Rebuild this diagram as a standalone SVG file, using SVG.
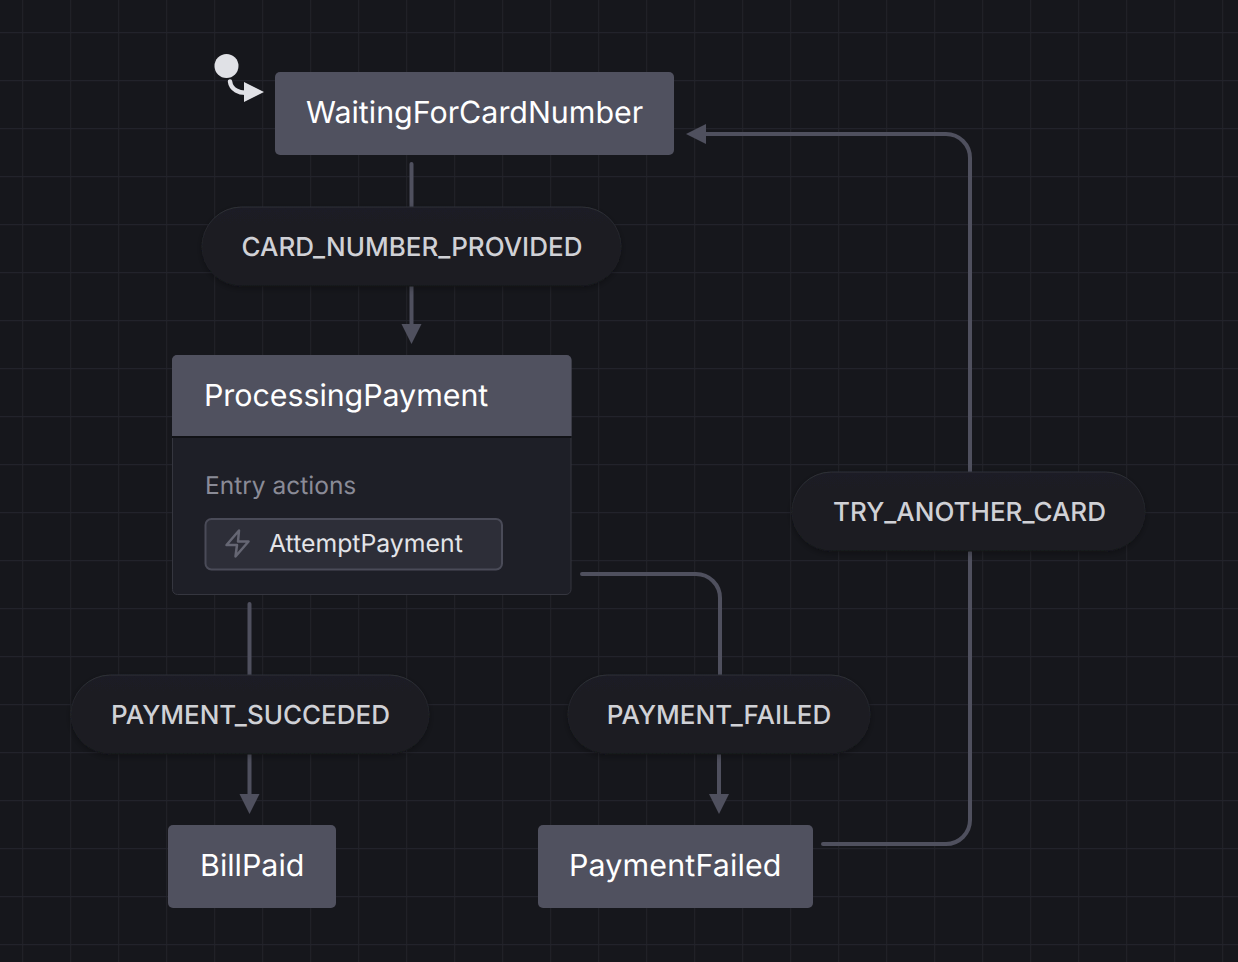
<svg xmlns="http://www.w3.org/2000/svg" width="1238" height="962" viewBox="0 0 1238 962">
<defs>
<pattern id="grid" width="48" height="48" patternUnits="userSpaceOnUse" x="22" y="32">
<rect x="0" y="0" width="1.2" height="48" fill="#202127"/>
<rect x="0" y="0" width="48" height="1.2" fill="#22232b"/>
</pattern>
<linearGradient id="pill" x1="0" y1="0" x2="0" y2="1"><stop offset="0" stop-color="#1e1f25"/><stop offset="1" stop-color="#1a1b20"/></linearGradient>
<linearGradient id="pillEdge" x1="0" y1="0" x2="0" y2="1"><stop offset="0" stop-color="#2e2f36"/><stop offset=".5" stop-color="#1f2026"/><stop offset="1" stop-color="#17181c"/></linearGradient>
<filter id="sh" x="-10%" y="-20%" width="120%" height="150%"><feDropShadow dx="0" dy="2" stdDeviation="3" flood-color="#000" flood-opacity=".3"/></filter>
</defs>
<style>
text{font-family:Inter,"Noto Sans","Liberation Sans",sans-serif;text-rendering:geometricPrecision}
.st{fill:#50515f}
.title{fill:#fff;font-size:30.400px;font-weight:400}
.ev{fill:#d0d1d6;font-size:26px;font-weight:500;text-anchor:middle}
.pillr{fill:url(#pill);stroke:url(#pillEdge);stroke-width:1;filter:url(#sh)}
.edge{fill:none;stroke:#4f505e;stroke-width:4;stroke-linecap:round}
.head{fill:#4f505e}
</style>
<rect width="1238" height="962" fill="#16171c"/>
<rect width="1238" height="962" fill="url(#grid)"/>
<g id="connectors">
<path class="edge" d="M411.500 164V208"/>
<path class="edge" d="M411.500 286V326"/>
<polygon class="head" points="401.500,324 421.500,324 411.500,344"/>
<path class="edge" d="M249.500 604V676"/>
<path class="edge" d="M249.500 754V796"/>
<polygon class="head" points="239.500,794 259.500,794 249.500,814"/>
<path class="edge" d="M582 574H696a24 24 0 0 1 24 24V676"/>
<path class="edge" d="M719 754V796"/>
<polygon class="head" points="709,794 729,794 719,814"/>
<path class="edge" d="M823 844H946a24 24 0 0 0 24-24V552"/>
<path class="edge" d="M970 472V158a24 24 0 0 0-24-24H704"/>
<polygon class="head" points="706,124 706,144 686,134"/>
<path d="M230 81.500c1 8 9 12.500 19 11" fill="none" stroke="#e0e1e6" stroke-width="4.500" stroke-linecap="round"/>
<polygon points="244,82 264,92 244,102" fill="#e0e1e6"/>
</g>
<g id="initial"><circle cx="226.500" cy="66" r="12" fill="#e0e1e6"/></g>
<g id="WaitingForCardNumber">
<rect class="st" x="275" y="72" width="399" height="83" rx="5"/>
<text class="title" x="306" y="123">WaitingForCardNumber</text>
</g>
<g id="CARD_NUMBER_PROVIDED">
<rect class="pillr" x="202" y="207" width="419" height="79" rx="39.500"/>
<text class="ev" x="412" y="256">CARD_NUMBER_PROVIDED</text>
</g>
<g id="ProcessingPayment">
<rect x="172.500" y="355.500" width="398.500" height="239" rx="5" fill="#1e1f27" stroke="#35363f"/>
<path class="st" d="M172 436V360a5 5 0 0 1 5-5H566.500a5 5 0 0 1 5 5V436Z"/>
<rect x="172" y="436" width="399.500" height="2" fill="#111216"/>
<text class="title" x="204" y="406" letter-spacing="-.05">ProcessingPayment</text>
<text x="205" y="494" font-size="24.500" fill="#8a8b97">Entry actions</text>
<rect x="205.500" y="519" width="296.500" height="50.500" rx="6" fill="#2d2e38" stroke="#4a4b58" stroke-width="2"/>
<path d="M239 530.500L226.500 545H237L235.500 556.500L248.500 541.500H238Z" fill="none" stroke="#656673" stroke-width="2.500" stroke-linejoin="round"/>
<text x="269" y="552" font-size="24.800px" fill="#e3e4e8">AttemptPayment</text>
</g>
<g id="PAYMENT_SUCCEDED">
<rect class="pillr" x="71" y="675" width="358" height="79" rx="39.500"/>
<text class="ev" x="250.500" y="724">PAYMENT_SUCCEDED</text>
</g>
<g id="PAYMENT_FAILED">
<rect class="pillr" x="568" y="675" width="302" height="79" rx="39.500"/>
<text class="ev" x="719" y="724">PAYMENT_FAILED</text>
</g>
<g id="TRY_ANOTHER_CARD">
<rect class="pillr" x="792" y="472" width="353" height="79" rx="39.500"/>
<text class="ev" x="969.500" y="521">TRY_ANOTHER_CARD</text>
</g>
<g id="BillPaid">
<rect class="st" x="168" y="825" width="168" height="83" rx="5"/>
<text class="title" x="200" y="876">BillPaid</text>
</g>
<g id="PaymentFailed">
<rect class="st" x="538" y="825" width="275" height="83" rx="5"/>
<text class="title" x="569" y="876" letter-spacing=".15">PaymentFailed</text>
</g>
</svg>
